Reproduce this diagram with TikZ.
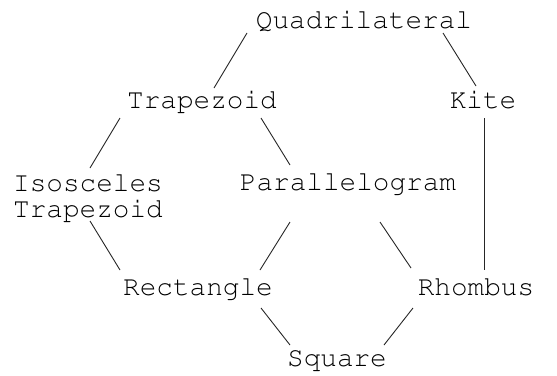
\documentclass[tikz,border=0pt]{standalone}
\usepackage[T1]{fontenc}
\usepackage{courier}
\tikzset{
  label/.style={inner sep=0pt, font=\ttfamily\fontsize{27.7}{26}\selectfont},
  link/.style={line width=0.9pt, draw=black!85}
}
\begin{document}
\begin{tikzpicture}[x=1pt, y=-1pt]
  \useasboundingbox (0,0) rectangle (557,375);

  % family tree of quadrilaterals
  \node[label, anchor=base] (quad)   at (364,28)  {Quadrilateral};
  \node[label, anchor=base] (trap)   at (202,108) {Trapezoid};
  \node[label, anchor=base] (kite)   at (483,108) {Kite};
  \node[label, align=center] (isos)  at (88,197.5) {Isosceles\\Trapezoid};
  \node[label, anchor=base] (para)   at (348,190) {Parallelogram};
  \node[label, anchor=base] (rect)   at (198,295) {Rectangle};
  \node[label, anchor=base] (rhomb)  at (476,295) {Rhombus};
  \node[label, anchor=base] (square) at (337,366) {Square};

  % connectors between the shapes
  \draw[link] ([shift={(-117,5)}]quad.base) -- ([shift={(12,-20)}]trap.base);
  \draw[link] ([shift={(79,5)}]quad.base)   -- ([shift={(-7,-22)}]kite.base);
  \draw[link] ([shift={(-82,10)}]trap.base) -- ([shift={(2,-29.5)}]isos.center);
  \draw[link] ([shift={(59,10)}]trap.base)  -- ([shift={(-58,-25)}]para.base);
  \draw[link] ([shift={(1,10)}]kite.base)   -- ([shift={(8,-25)}]rhomb.base);
  \draw[link] ([shift={(2,23.5)}]isos.center) -- ([shift={(-78,-25)}]rect.base);
  \draw[link] ([shift={(-58,32)}]para.base) -- ([shift={(62,-25)}]rect.base);
  \draw[link] ([shift={(32,32)}]para.base)  -- ([shift={(-65,-27)}]rhomb.base);
  \draw[link] ([shift={(63,13)}]rect.base)  -- ([shift={(-47,-21)}]square.base);
  \draw[link] ([shift={(-63,13)}]rhomb.base) -- ([shift={(47,-21)}]square.base);
\end{tikzpicture}
\end{document}
